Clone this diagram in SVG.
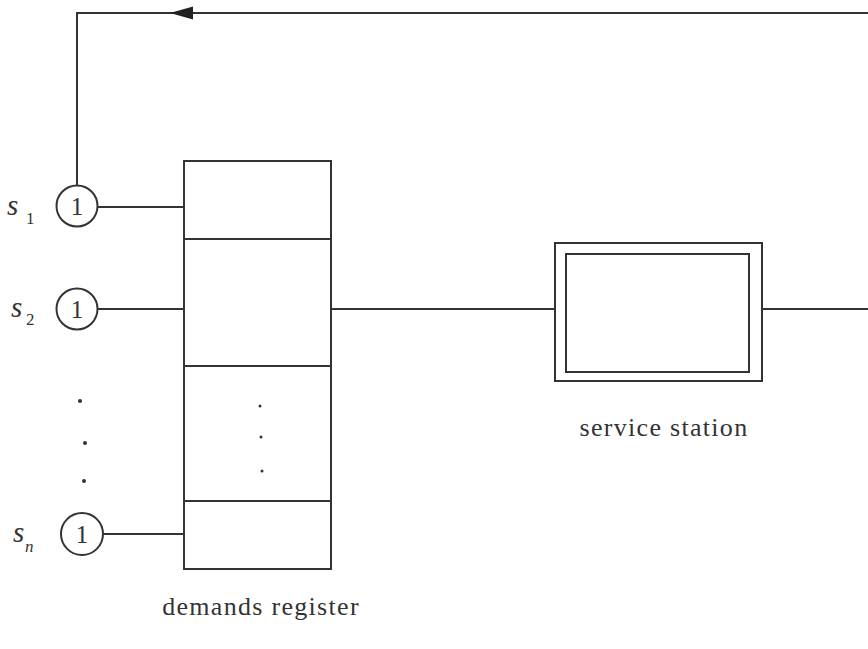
<svg xmlns="http://www.w3.org/2000/svg" width="868" height="649" viewBox="0 0 868 649">
<style>
.ln{stroke:#333;stroke-width:2;fill:none}
.bx{stroke:#333;stroke-width:2;fill:none}
.t{font-family:"Liberation Serif",serif;font-size:26px;fill:#333;letter-spacing:1.3px}
.d{font-family:"Liberation Serif",serif;font-size:25px;fill:#333}
.s{font-family:"Liberation Serif",serif;font-size:29px;font-style:italic;fill:#333}
.sub{font-family:"Liberation Serif",serif;font-size:17px;fill:#333}
.dot{fill:#333}
</style>
<rect width="868" height="649" fill="#fff"/>
<g id="connectors">
<polyline class="ln" points="868,13 77,13 77,186"/>
<polygon points="170,13 193,6.5 193,19.5" fill="#222"/>
<line class="ln" x1="98" y1="207" x2="184" y2="207"/>
<line class="ln" x1="98" y1="309" x2="184" y2="309"/>
<line class="ln" x1="103" y1="534" x2="184" y2="534"/>
<line class="ln" x1="331" y1="309" x2="555" y2="309"/>
<line class="ln" x1="762" y1="309" x2="868" y2="309"/>
</g>
<g id="s1">
<circle class="bx" cx="77" cy="206" r="20.5"/>
<text class="d" x="77" y="215" text-anchor="middle">1</text>
<text class="s" x="7" y="215">s</text><text class="sub" x="26" y="224">1</text>
</g>
<g id="s2">
<circle class="bx" cx="77" cy="309" r="20.5"/>
<text class="d" x="77" y="318" text-anchor="middle">1</text>
<text class="s" x="11" y="317">s</text><text class="sub" x="26" y="325">2</text>
</g>
<g id="dots-left">
<circle class="dot" cx="80" cy="401" r="2"/>
<circle class="dot" cx="85" cy="443" r="2"/>
<circle class="dot" cx="84" cy="481" r="2"/>
</g>
<g id="sn">
<circle class="bx" cx="82" cy="534" r="21"/>
<text class="d" x="82" y="543" text-anchor="middle">1</text>
<text class="s" x="13" y="542">s</text><text class="sub" x="25" y="552" font-style="italic" font-size="21">n</text>
</g>
<g id="demands-register">
<rect class="bx" x="184" y="161" width="147" height="408"/>
<line class="ln" x1="184" y1="239" x2="331" y2="239"/>
<line class="ln" x1="184" y1="366" x2="331" y2="366"/>
<line class="ln" x1="184" y1="501" x2="331" y2="501"/>
<circle class="dot" cx="260" cy="406" r="1.5"/>
<circle class="dot" cx="261" cy="437" r="1.5"/>
<circle class="dot" cx="262" cy="471" r="1.5"/>
<text class="t" x="261" y="615" text-anchor="middle">demands register</text>
</g>
<g id="service-station">
<rect class="bx" x="555" y="243" width="207" height="138"/>
<rect class="bx" x="566" y="254" width="183" height="118"/>
<text class="t" x="664" y="436" text-anchor="middle">service station</text>
</g>
</svg>
